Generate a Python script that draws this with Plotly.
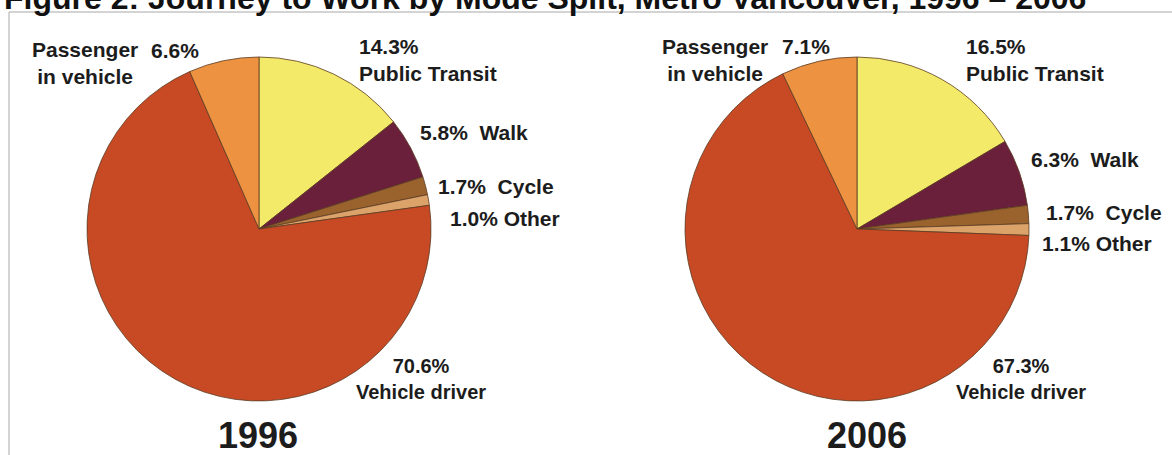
import plotly.graph_objects as go

W, H = 1172, 455

modes = ["Public Transit", "Walk", "Cycle", "Other", "Vehicle driver", "Passenger in vehicle"]
share_1996 = [14.3, 5.8, 1.7, 1.0, 70.6, 6.6]
share_2006 = [16.5, 6.3, 1.7, 1.1, 67.3, 7.1]
years = ["1996", "2006"]
title_text = "Figure 2: Journey to Work by Mode Split, Metro Vancouver, 1996 \u2013 2006"

colors = ["#F4EA6A", "#6A1F3A", "#9A632D", "#DBA36A", "#C84A25", "#EC9241"]

BOLD = "Liberation Sans, Arial, sans-serif"
TXT = "#1c1c1c"


def px(x, y):
    return x / W, 1 - y / H


fig = go.Figure()

centers = [(259, 229), (857, 229)]
R = 172
for (cx, cy), vals, yr in zip(centers, [share_1996, share_2006], years):
    x0, y1 = px(cx - R, cy - R)
    x1, y0 = px(cx + R, cy + R)
    fig.add_trace(go.Pie(
        labels=modes, values=vals, sort=False, direction="clockwise", rotation=0,
        marker=dict(colors=colors, line=dict(color="#5a3b22", width=0.8)),
        textinfo="none", hoverinfo="label+value", showlegend=False,
        domain=dict(x=[x0, x1], y=[y0, y1]), name=yr,
    ))

ann = []


def add(text, x, y, xa="left", ya="middle", size=21, family=BOLD, align="left"):
    ax, ay = px(x, y)
    ann.append(dict(text=f"<b>{text}</b>", x=ax, y=ay, xref="paper", yref="paper", xanchor=xa, yanchor=ya,
                    showarrow=False, align=align, font=dict(family=family, size=size, color=TXT)))


def pct(v):
    return f"{v:.1f}%"


# 1996 labels
s = share_1996
add("Passenger<br>in vehicle", 85, 63, xa="center", align="center")
add(pct(s[5]), 149, 50)
add(pct(s[0]) + "<br>Public Transit", 357, 60)
add(pct(s[1]) + "&nbsp;&nbsp;Walk", 418, 132)
add(pct(s[2]) + "&nbsp;&nbsp;Cycle", 436, 186)
add(pct(s[3]) + " Other", 448, 218)
add(pct(s[4]) + "<br>Vehicle driver", 421, 379, xa="center", align="center", size=20)
add(years[0], 258, 435, xa="center", size=36)

# 2006 labels
s = share_2006
add("Passenger<br>in vehicle", 715, 60, xa="center", align="center")
add(pct(s[5]), 780, 47)
add(pct(s[0]) + "<br>Public Transit", 964, 60)
add(pct(s[1]) + "&nbsp;&nbsp;Walk", 1029, 159)
add(pct(s[2]) + "&nbsp;&nbsp;Cycle", 1044, 212)
add(pct(s[3]) + " Other", 1040, 243)
add(pct(s[4]) + "<br>Vehicle driver", 1021, 379, xa="center", align="center", size=20)
add(years[1], 867, 435, xa="center", size=36)

# cut-off title at the very top
tx, ty = px(2, 18)
ann.append(dict(text=f"<b>{title_text}</b>", x=tx, y=ty, xref="paper", yref="paper",
                xanchor="left", yanchor="bottom", showarrow=False,
                font=dict(family=BOLD, size=32, color="#111111")))

fx0, fy0 = px(9, 12)
fig.update_layout(
    width=W, height=H,
    margin=dict(l=0, r=0, t=0, b=0),
    paper_bgcolor="white", plot_bgcolor="white",
    annotations=ann,
    shapes=[dict(type="rect", xref="paper", yref="paper", x0=fx0, y0=-0.1, x1=1.1, y1=fy0,
                 line=dict(color="#a8a8a8", width=1), fillcolor="rgba(0,0,0,0)", layer="below")],
)

fig.write_html("out.html", config={"displayModeBar": False},
               post_script="document.body.style.margin='0';document.body.style.padding='0';"
                           "document.body.style.overflow='hidden';")
